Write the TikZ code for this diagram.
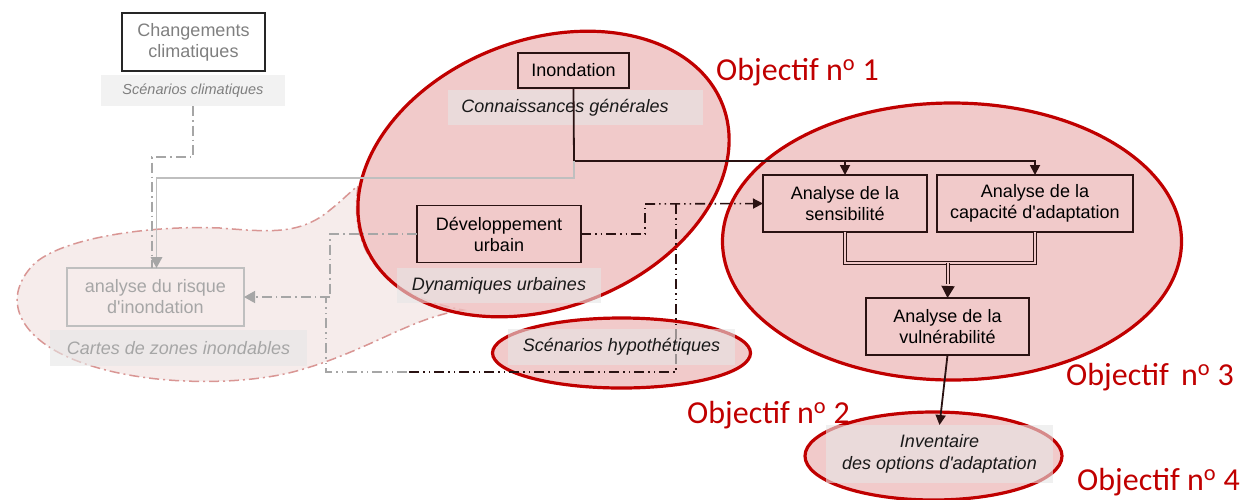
\documentclass[tikz,border=0pt]{standalone}
\usepackage{fontspec}
\setmainfont{Liberation Sans}[Ligatures=TeXOff]
\newfontfamily\objfont{Carlito}
\usetikzlibrary{arrows.meta}
\definecolor{ellred}{HTML}{C00000}
\definecolor{ellfill}{HTML}{EEBDBD}
\definecolor{pinkin}{HTML}{F0C8C8}
\definecolor{blobfill}{HTML}{F6ECEB}
\definecolor{blobline}{HTML}{D99694}
\definecolor{boxline}{HTML}{2A1212}
\definecolor{lgray}{HTML}{A6A6A6}
\definecolor{lgline}{HTML}{BFBFBF}
\definecolor{mgray}{HTML}{7F7F7F}
\definecolor{labelbg}{HTML}{E6E6E6}
\begin{document}
\begin{tikzpicture}[x=1pt,y=-1pt,
  box/.style={draw=boxline, line width=1.6pt, inner sep=0pt, outer sep=0pt, align=center,
    font=\fontsize{18}{21}\selectfont, text=black},
  lbl/.style={fill=labelbg, fill opacity=0.6, text opacity=1, inner sep=0pt, outer sep=0pt,
    align=center, font=\fontsize{18}{22}\selectfont\itshape, text=black!90},
  lbltext/.style={inner sep=0pt, align=center, font=\fontsize{18}{22}\selectfont\itshape, text=black!90},
  ell/.style={draw=ellred, line width=3.2pt, fill=ellfill, fill opacity=0.8},
  conn/.style={draw=boxline, line width=1.8pt},
  tip/.style={-{Triangle[length=10pt,width=10pt]}},
  bigtip/.style={-{Triangle[length=11pt,width=12pt]}},
  ddd/.style={line width=1.6pt, dash pattern=on 10pt off 4pt on 1.5pt off 4pt on 1.5pt off 4pt},
  dd/.style={line width=1.5pt, dash pattern=on 10pt off 4pt on 1.5pt off 4pt},
  objlab/.style={anchor=base west, inner sep=0pt, text=ellred, font=\objfont\fontsize{32}{36}\selectfont}
]
\useasboundingbox (0,0) rectangle (1241,499);

% blob (flood maps region)
\path[fill=blobfill, draw=blobline, line width=1.5pt, dash pattern=on 10pt off 4pt on 2pt off 4pt]
  (358,186) .. controls (352,230) and (360,290) .. (463,310)
  .. controls (410,318) and (370,350) .. (300,370)
  .. controls (250,385) and (150,388) .. (80,362)
  .. controls (20,340) and (0,300) .. (33,265)
  .. controls (60,238) and (150,225) .. (220,228)
  .. controls (270,232) and (300,235) .. (330,210)
  .. controls (345,198) and (352,190) .. (358,186) -- cycle;

% objective ellipses
\path[ell, shift={(543.5,174)}, rotate=21] (0,0) ellipse [x radius=192, y radius=134];
\path[ell] (621.5,353) ellipse [x radius=129, y radius=35];
\path[ell] (952,241.5) ellipse [x radius=229.5, y radius=138.5];
\path[ell] (933.5,456) ellipse [x radius=128.5, y radius=44];

% label backgrounds drawn under connectors
\node[lbl, minimum width=184, minimum height=31, fill=white!95!black, fill opacity=1,
  font=\fontsize{14.5}{17}\selectfont\itshape, text=mgray] (scl) at (193,90.5) {Scénarios climatiques};
\node[lbl, minimum width=255, minimum height=35] (conn) at (575.5,107.5) {};
\node[lbltext] (conntxt) at (565,108) {Connaissances générales};
\node[lbl, minimum width=204, minimum height=35] (dyn) at (499,285.5) {Dynamiques urbaines};
\node[lbl, minimum width=257, minimum height=36, text=lgray] (cartes) at (178.5,348) {Cartes de zones inondables};

% boxes
\node[box, draw=black!85, minimum width=143, minimum height=58, text=mgray] (chg) at (193.5,42) {Changements\\climatiques};
\node[box, minimum width=111, minimum height=35] (inond) at (573.5,70.5) {Inondation};
\node[box, minimum width=164, minimum height=57] (dev) at (499,234) {Développement\\urbain};
\node[box, draw=lgline, line width=1.3pt, minimum width=177, minimum height=58, text=lgray] (risk) at (155.5,297) {analyse du risque\\d'inondation};
\node[box, minimum width=164, minimum height=57] (sens) at (845,203.5) {Analyse de la\\sensibilité};
\node[box, minimum width=196, minimum height=57] (cap) at (1035,203.5) {Analyse de la\\capacité d'adaptation};
\node[box, minimum width=163, minimum height=57] (vul) at (947.5,326.5) {Analyse de la\\vulnérabilité};

% coordinates for connector corners
\coordinate (hl) at (574,161);
\coordinate (g1) at (574,178);
\coordinate (c2) at (152,157);
\coordinate (J) at (330,297);
\coordinate (D2) at (645,204);
\coordinate (B1) at (676,204);
\coordinate (B2) at (676,372);
\coordinate (B3) at (407,372);
\coordinate (B4) at (326,372);
\coordinate (mid) at (948,263);
\coordinate (mid2) at (948,284);

% connectors: knowledge to analyses
\draw[conn, tip] (inond.south) -- (hl) -| (cap.north);
\draw[conn, tip] (hl -| sens.north) -- (sens.north);
% gray solid to flood risk
\draw[lgline, line width=1.6pt] (hl) -- (g1) -| ([xshift=1pt]risk.north);
\draw[lgray, line width=1pt, dd] (scl.south) |- (c2) -- (c2 |- risk.north);
\draw[lgray, draw=none, fill=lgray] ([xshift=1pt]risk.north) -- ++(-6,-11) -- ++(12,0) -- cycle;
% urban development to flood risk
\draw[lgray, dd] (dev.west) -| (J);
\draw[lgray, line width=1.5pt, dash pattern=on 10pt off 4pt on 1.5pt off 4pt, bigtip] (J) -- (risk.east);
% urban development to sensitivity
\draw[boxline, ddd] (dev.east) -| (D2);
\draw[boxline, ddd, tip] (D2) -- (sens.west);
% hypothetical scenarios branch
\draw[boxline, ddd] (B1) -- (B2) -- (B3);
\draw[lgray, ddd] (B3) -- (B4) -- (B4 |- J);
% double connector to vulnerability
\draw[boxline, line width=1.1pt, double=pinkin, double distance=2pt] (sens.south) |- (mid) -| (cap.south);
\draw[boxline, line width=1.1pt, double=pinkin, double distance=2pt] (mid) -- (mid2);
\draw[boxline, line width=1.6pt, -{Triangle[length=12pt,width=13pt]}] ([yshift=-3pt]mid2) -- (vul.north);

% labels drawn over connectors
\node[lbl, minimum width=227, minimum height=36] (scenh) at (621.5,347) {Scénarios hypothétiques};
\node[lbl, minimum width=227, minimum height=58] (inv) at (939.5,454) {Inventaire\\des options d'adaptation};
\draw[conn, tip] (vul.south) -- (inv.north);

% objective captions
\node[objlab] (o1) at (716,80) {Objectif n\textsuperscript{o} 1};
\node[objlab] (o2) at (687,423) {Objectif n\textsuperscript{o} 2};
\node[objlab] (o3) at (1066,385) {Objectif\hspace{5pt} n\textsuperscript{o} 3};
\node[objlab] (o4) at (1077,490) {Objectif n\textsuperscript{o} 4};
\end{tikzpicture}
\end{document}
